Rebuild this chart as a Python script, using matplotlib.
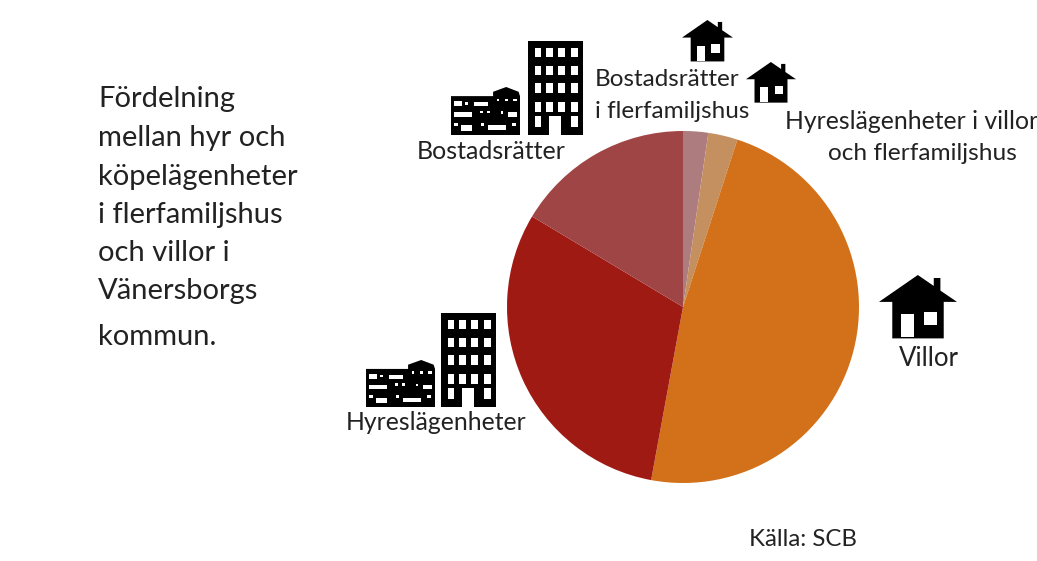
import matplotlib
matplotlib.use("Agg")
import matplotlib.pyplot as plt
from matplotlib.patches import Polygon, Rectangle

W, H = 1037, 561

# andelar i procent, medurs fran toppen
slice_labels = ["Bostadsrätter i flerfamiljshus", "Hyreslägenheter i villor och flerfamiljshus",
                "Villor", "Hyreslägenheter", "Bostadsrätter"]
slice_values = [2.3, 2.7, 47.9, 30.7, 16.4]
slice_colors = ["#AC7C7F", "#C4905F", "#D2711A", "#A01A14", "#A04545"]

title_lines = ["Fördelning", "mellan hyr och", "köpelägenheter", "i flerfamiljshus",
               "och villor i", "Vänersborgs", "kommun."]
title_y = [99, 138, 177, 215, 253, 291, 337]

plt.rcParams["font.family"] = ["Lato", "DejaVu Sans"]

fig = plt.figure(figsize=(W / 100, H / 100), dpi=100, facecolor="white")

# bakgrundsaxel i pixelkoordinater
ax = fig.add_axes([0, 0, 1, 1])
ax.set_xlim(0, W)
ax.set_ylim(H, 0)
ax.axis("off")

# cirkeln
cx, cy, r = 683, 307, 176
pie_ax = fig.add_axes([(cx - r) / W, 1 - (cy + r) / H, 2 * r / W, 2 * r / H])
pie_ax.pie(slice_values, colors=slice_colors, startangle=90, counterclock=False, radius=1)
pie_ax.set_xlim(-1, 1)
pie_ax.set_ylim(-1, 1)


def draw_house(x0, y0, width):
    s = width / 235
    def p(x, y):
        return (x0 + x * s, y0 + y * s)
    outline = [(117, 0), (165, 33), (165, 9), (185, 9), (185, 47), (235, 81), (195, 81),
               (195, 191), (40, 191), (40, 81), (0, 81)]
    ax.add_patch(Polygon([p(*q) for q in outline], closed=True, fc="black", ec="none", zorder=3))
    ax.add_patch(Rectangle(p(67, 119), 38 * s, 69 * s, fc="white", ec="none", zorder=4))
    ax.add_patch(Rectangle(p(135, 111), 40 * s, 40 * s, fc="white", ec="none", zorder=4))


def draw_tower(x0, y0, w, h):
    ax.add_patch(Rectangle((x0, y0), w, h, fc="black", ec="none", zorder=3))
    cols = [0.12, 0.33, 0.55, 0.79]
    rows = [0.07, 0.265, 0.45, 0.65]
    for fx in cols:
        for fy in rows:
            ax.add_patch(Rectangle((x0 + fx * w, y0 + fy * h), 0.12 * w, 0.10 * h,
                                   fc="white", ec="none", zorder=4))
    # nedersta raden med port
    ax.add_patch(Rectangle((x0 + 0.12 * w, y0 + 0.80 * h), 0.12 * w, 0.12 * h, fc="white", ec="none", zorder=4))
    ax.add_patch(Rectangle((x0 + 0.79 * w, y0 + 0.80 * h), 0.12 * w, 0.12 * h, fc="white", ec="none", zorder=4))
    ax.add_patch(Rectangle((x0 + 0.39 * w, y0 + 0.80 * h), 0.21 * w, 0.20 * h, fc="white", ec="none", zorder=4))


def draw_lowrise(x0, y0, w, h):
    outline = [(0, 0.19), (0.61, 0.19), (0.61, 0.1), (0.8, 0), (0.98, 0.1), (1, 0.19), (1, 1), (0, 1)]
    ax.add_patch(Polygon([(x0 + a * w, y0 + b * h) for a, b in outline], closed=True,
                         fc="black", ec="none", zorder=3))
    # ljusa flackar i fasaden
    blobs = [(0.04, 0.30, 0.12, 0.10), (0.33, 0.32, 0.20, 0.08), (0.66, 0.24, 0.04, 0.06),
             (0.78, 0.24, 0.04, 0.06), (0.90, 0.24, 0.05, 0.06), (0.04, 0.53, 0.26, 0.09),
             (0.42, 0.49, 0.05, 0.06), (0.52, 0.49, 0.05, 0.06), (0.72, 0.50, 0.04, 0.06),
             (0.82, 0.53, 0.13, 0.09), (0.05, 0.75, 0.05, 0.06), (0.15, 0.80, 0.16, 0.12),
             (0.43, 0.75, 0.05, 0.06), (0.54, 0.80, 0.26, 0.10), (0.88, 0.75, 0.06, 0.06),
             (0.20, 0.32, 0.04, 0.05)]
    for a, b, bw, bh in blobs:
        ax.add_patch(Rectangle((x0 + a * w, y0 + b * h), bw * w, bh * h, fc="white", ec="none", zorder=4))


draw_house(879, 275, 78)
draw_house(682, 20, 51)
draw_house(746, 62, 50)
draw_tower(528, 41, 55, 94)
draw_lowrise(451, 87, 69, 48)
draw_tower(441, 313, 55, 94)
draw_lowrise(366, 360, 69, 47)

text_color = "#222222"
for line, y in zip(title_lines, title_y):
    ax.text(98, y, line, fontsize=21, color=text_color, ha="left", va="center")

# x, y, text, storlek
labels = [
    (417, 151, "Bostadsrätter", 18),
    (595, 79, "Bostadsrätter", 17.5),
    (595, 111, "i flerfamiljshus", 17.5),
    (785, 121, "Hyreslägenheter i villor", 17.8),
    (828, 153, "och flerfamiljshus", 17.6),
    (899, 358, "Villor", 18.5),
    (346, 422, "Hyreslägenheter", 17.8),
    (749, 539, "Källa: SCB", 17.3),
]
for x, y, s, size in labels:
    ax.text(x, y, s, fontsize=size, color=text_color, ha="left", va="center")

fig.savefig("out.png", dpi=100)
